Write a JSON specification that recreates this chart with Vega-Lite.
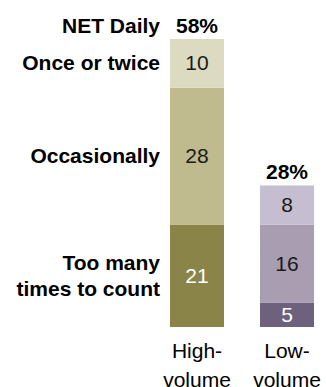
{
  "$schema": "https://vega.github.io/schema/vega-lite/v6.json",
  "autosize": "none",
  "width": 162,
  "height": 327,
  "padding": {"left": 161, "top": 0, "right": 3, "bottom": 60},
  "background": "white",
  "config": {"view": {"stroke": null}, "font": "Liberation Sans"},
  "datasets": {
    "segments": [
      {"group": "High-volume", "cat": "Too many times to count", "order": 1, "value": 21},
      {"group": "High-volume", "cat": "Occasionally", "order": 2, "value": 28},
      {"group": "High-volume", "cat": "Once or twice", "order": 3, "value": 10},
      {"group": "Low-volume", "cat": "Too many times to count", "order": 1, "value": 5},
      {"group": "Low-volume", "cat": "Occasionally", "order": 2, "value": 16},
      {"group": "Low-volume", "cat": "Once or twice", "order": 3, "value": 8}
    ],
    "totals": [
      {"group": "High-volume", "label": "NET Daily", "total": 58},
      {"group": "Low-volume", "label": "NET Daily", "total": 28}
    ]
  },
  "data": {"name": "segments"},
  "transform": [
    {"stack": "value", "groupby": ["group"], "sort": [{"field": "order", "order": "ascending"}], "as": ["y0", "y1"]},
    {"calculate": "(datum.y0 + datum.y1) / 2", "as": "mid"},
    {"calculate": "datum.group + '/' + datum.cat", "as": "key"},
    {"calculate": "datum.cat == 'Too many times to count' ? 'Too many\\ntimes to count' : datum.cat", "as": "labeltext"}
  ],
  "encoding": {
    "x": {
      "field": "group",
      "type": "nominal",
      "scale": {"domain": ["High-volume", "Low-volume"], "paddingInner": 0.4, "paddingOuter": 0.1},
      "axis": {
        "title": null,
        "domain": false,
        "ticks": false,
        "labelAngle": 0,
        "labelFontSize": 21,
        "labelColor": "#000000",
        "labelPadding": 13,
        "labelLineHeight": 29,
        "labelExpr": "datum.value == 'High-volume' ? ['High-', 'volume'] : ['Low-', 'volume']"
      }
    }
  },
  "layer": [
    {
      "mark": {"type": "bar"},
      "encoding": {
        "y": {"field": "y0", "type": "quantitative", "scale": {"domain": [0, 67], "nice": false, "zero": true}, "axis": null},
        "y2": {"field": "y1"},
        "color": {
          "field": "key",
          "type": "nominal",
          "legend": null,
          "scale": {
            "domain": [
              "High-volume/Too many times to count", "High-volume/Occasionally", "High-volume/Once or twice",
              "Low-volume/Too many times to count", "Low-volume/Occasionally", "Low-volume/Once or twice"
            ],
            "range": ["#8a8449", "#bfbb8f", "#dcdbc1", "#6e617e", "#a99db2", "#c5bed0"]
          }
        }
      }
    },
    {
      "mark": {"type": "text", "fontSize": 21, "baseline": "middle", "align": "center", "dy": 1},
      "encoding": {
        "y": {"field": "mid", "type": "quantitative"},
        "text": {"field": "value", "type": "quantitative"},
        "color": {
          "condition": {"test": "datum.cat == 'Too many times to count'", "value": "#ffffff"},
          "value": "#1a1a1a"
        }
      }
    },
    {
      "transform": [{"filter": "datum.group == 'High-volume' && datum.cat != 'Too many times to count'"}],
      "mark": {"type": "text", "fontSize": 21, "fontWeight": "bold", "baseline": "middle", "align": "right", "dx": -10, "dy": 1},
      "encoding": {
        "x": {"field": "group", "type": "nominal", "bandPosition": 0},
        "y": {"field": "mid", "type": "quantitative"},
        "text": {"field": "labeltext"},
        "color": {"value": "#000000"}
      }
    },
    {
      "transform": [{"filter": "datum.group == 'High-volume' && datum.cat == 'Too many times to count'"}],
      "mark": {"type": "text", "fontSize": 21, "fontWeight": "bold", "baseline": "middle", "align": "right", "dx": -10, "dy": -12, "lineBreak": "\n", "lineHeight": 26},
      "encoding": {
        "x": {"field": "group", "type": "nominal", "bandPosition": 0},
        "y": {"field": "mid", "type": "quantitative"},
        "text": {"field": "labeltext"},
        "color": {"value": "#000000"}
      }
    },
    {
      "data": {"name": "totals"},
      "transform": [{"calculate": "datum.total + '%'", "as": "totlabel"}],
      "mark": {"type": "text", "fontSize": 21, "fontWeight": "bold", "baseline": "alphabetic", "align": "center", "dy": -11},
      "encoding": {
        "y": {"field": "total", "type": "quantitative"},
        "text": {"field": "totlabel"},
        "color": {"value": "#000000"}
      }
    },
    {
      "data": {"name": "totals"},
      "transform": [{"filter": "datum.group == 'High-volume'"}],
      "mark": {"type": "text", "fontSize": 21, "fontWeight": "bold", "baseline": "alphabetic", "align": "right", "dx": -10, "dy": -11},
      "encoding": {
        "x": {"field": "group", "type": "nominal", "bandPosition": 0},
        "y": {"field": "total", "type": "quantitative"},
        "text": {"field": "label"},
        "color": {"value": "#000000"}
      }
    }
  ]
}
